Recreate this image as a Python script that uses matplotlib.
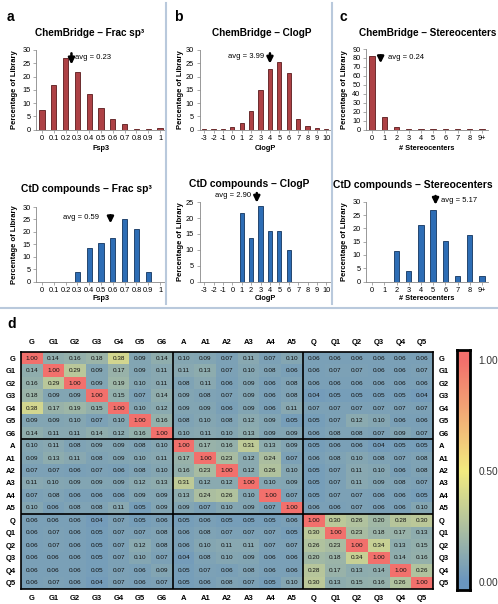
import numpy as np
import matplotlib
matplotlib.use("Agg")
import matplotlib.pyplot as plt
from matplotlib.colors import LinearSegmentedColormap
from matplotlib.lines import Line2D

plt.rcParams['font.family'] = ['Liberation Sans', 'DejaVu Sans']

W, H = 498, 604

# ---- distribution data (percentage of library) ----
fsp3_cats = ['0', '0.1', '0.2', '0.3', '0.4', '0.5', '0.6', '0.7', '0.8', '0.9', '1']
fsp3_chembridge = [7.2, 16.8, 27.0, 21.7, 13.4, 8.0, 3.9, 2.1, 0.3, 0.3, 0.4]
fsp3_ctd = [0, 0, 0, 4.0, 13.5, 15.5, 17.4, 25.0, 21.2, 4.0, 0]

clogp_cats = ['-3', '-2', '-1', '0', '1', '2', '3', '4', '5', '6', '7', '8', '9', '10']
clogp_chembridge = [0.1, 0.1, 0.3, 0.8, 2.6, 7.0, 15.0, 22.8, 25.5, 21.3, 3.9, 1.5, 0.5, 0.2]
clogp_ctd = [0, 0, 0, 0, 21.7, 13.8, 23.7, 15.8, 15.8, 9.9, 0, 0, 0, 0]

stereo_cats = ['0', '1', '2', '3', '4', '5', '6', '7', '8', '9+']
stereo_chembridge = [82.5, 13.5, 2.8, 0.8, 0.7, 0.2, 0.1, 0.1, 0.1, 0.1]
stereo_ctd = [0, 0, 11.5, 3.8, 21.2, 27.0, 15.4, 2.0, 17.4, 2.0]

# ---- similarity matrix ----
labels = ['G', 'G1', 'G2', 'G3', 'G4', 'G5', 'G6',
          'A', 'A1', 'A2', 'A3', 'A4', 'A5',
          'Q', 'Q1', 'Q2', 'Q3', 'Q4', 'Q5']
sim = np.array([
    [1.00, 0.14, 0.16, 0.18, 0.38, 0.09, 0.14, 0.10, 0.09, 0.07, 0.11, 0.07, 0.10, 0.06, 0.06, 0.06, 0.06, 0.06, 0.06],
    [0.14, 1.00, 0.29, 0.09, 0.17, 0.09, 0.11, 0.11, 0.13, 0.07, 0.10, 0.08, 0.06, 0.06, 0.07, 0.07, 0.06, 0.06, 0.07],
    [0.16, 0.29, 1.00, 0.09, 0.19, 0.10, 0.11, 0.08, 0.11, 0.06, 0.09, 0.06, 0.08, 0.06, 0.06, 0.06, 0.06, 0.06, 0.06],
    [0.18, 0.09, 0.09, 1.00, 0.15, 0.07, 0.14, 0.09, 0.08, 0.07, 0.09, 0.06, 0.08, 0.04, 0.05, 0.05, 0.05, 0.05, 0.04],
    [0.38, 0.17, 0.19, 0.15, 1.00, 0.10, 0.12, 0.09, 0.09, 0.06, 0.09, 0.06, 0.11, 0.07, 0.07, 0.07, 0.07, 0.07, 0.07],
    [0.09, 0.09, 0.10, 0.07, 0.10, 1.00, 0.16, 0.08, 0.10, 0.08, 0.12, 0.09, 0.05, 0.05, 0.07, 0.12, 0.10, 0.06, 0.06],
    [0.14, 0.11, 0.11, 0.14, 0.12, 0.16, 1.00, 0.10, 0.11, 0.10, 0.13, 0.09, 0.09, 0.06, 0.08, 0.08, 0.07, 0.09, 0.07],
    [0.10, 0.11, 0.08, 0.09, 0.09, 0.08, 0.10, 1.00, 0.17, 0.16, 0.31, 0.13, 0.09, 0.05, 0.06, 0.06, 0.04, 0.05, 0.05],
    [0.09, 0.13, 0.11, 0.08, 0.09, 0.10, 0.11, 0.17, 1.00, 0.23, 0.12, 0.24, 0.07, 0.06, 0.08, 0.10, 0.08, 0.07, 0.08],
    [0.07, 0.07, 0.06, 0.07, 0.06, 0.08, 0.10, 0.16, 0.23, 1.00, 0.12, 0.26, 0.10, 0.05, 0.07, 0.11, 0.10, 0.06, 0.08],
    [0.11, 0.10, 0.09, 0.09, 0.09, 0.12, 0.13, 0.31, 0.12, 0.12, 1.00, 0.10, 0.09, 0.05, 0.07, 0.11, 0.09, 0.08, 0.07],
    [0.07, 0.08, 0.06, 0.06, 0.06, 0.09, 0.09, 0.13, 0.24, 0.26, 0.10, 1.00, 0.07, 0.05, 0.07, 0.07, 0.06, 0.06, 0.05],
    [0.10, 0.06, 0.08, 0.08, 0.11, 0.05, 0.09, 0.09, 0.07, 0.10, 0.09, 0.07, 1.00, 0.06, 0.06, 0.07, 0.06, 0.06, 0.10],
    [0.06, 0.06, 0.06, 0.04, 0.07, 0.05, 0.06, 0.05, 0.06, 0.05, 0.05, 0.05, 0.06, 1.00, 0.30, 0.26, 0.20, 0.28, 0.30],
    [0.06, 0.07, 0.06, 0.05, 0.07, 0.07, 0.08, 0.06, 0.08, 0.07, 0.07, 0.07, 0.05, 0.30, 1.00, 0.23, 0.18, 0.17, 0.13],
    [0.06, 0.07, 0.06, 0.05, 0.07, 0.12, 0.08, 0.06, 0.10, 0.11, 0.11, 0.07, 0.07, 0.26, 0.23, 1.00, 0.34, 0.13, 0.15],
    [0.06, 0.06, 0.06, 0.05, 0.07, 0.10, 0.07, 0.04, 0.08, 0.10, 0.09, 0.06, 0.06, 0.20, 0.18, 0.34, 1.00, 0.14, 0.16],
    [0.06, 0.06, 0.06, 0.05, 0.07, 0.06, 0.09, 0.05, 0.07, 0.06, 0.08, 0.06, 0.06, 0.28, 0.17, 0.13, 0.14, 1.00, 0.26],
    [0.06, 0.07, 0.06, 0.04, 0.07, 0.06, 0.07, 0.05, 0.06, 0.08, 0.07, 0.05, 0.10, 0.30, 0.13, 0.15, 0.16, 0.26, 1.00],
])

RED, RED_EDGE = '#ad4145', '#5a1a1c'
BLUE, BLUE_EDGE = '#2d6db5', '#12345e'


def px(l, t, r, b):
    # pixel box -> figure fraction rect
    return [l / W, 1 - b / H, (r - l) / W, (b - t) / H]


fig = plt.figure(figsize=(W / 100, H / 100), dpi=100)


def bar_panel(rect, cats, vals, ymax, ystep, color, edge, title, title_xy, title_size,
              xlabel, xlabel_y, ylabel_x, arrow_x, arrow_top, arrow_tip, avg_text, text_xy):
    ax = fig.add_axes(px(*rect))
    x = np.arange(len(cats))
    ax.bar(x, vals, width=0.45, color=color, edgecolor=edge, linewidth=0.6)
    ax.set_xlim(-0.5, len(cats) - 0.5)
    ax.set_ylim(0, ymax)
    ax.set_yticks(np.arange(0, ymax + 0.1, ystep))
    ax.set_xticks(x)
    ax.set_xticklabels(cats)
    ax.tick_params(labelsize=5.3, length=2, width=0.5, color='#888888', pad=2)
    for s in ['top', 'right']:
        ax.spines[s].set_visible(False)
    for s in ['left', 'bottom']:
        ax.spines[s].set_color('#888888')
        ax.spines[s].set_linewidth(0.6)
    ax.annotate('', xy=(arrow_x, arrow_tip), xytext=(arrow_x, arrow_top),
                arrowprops=dict(arrowstyle='-|>', lw=1.8, color='black', mutation_scale=9),
                annotation_clip=False)
    ax.text(text_xy[0], text_xy[1], avg_text, fontsize=5.5, ha='center', va='center', clip_on=False)
    l, t, r, b = rect
    fig.text(title_xy[0] / W, 1 - title_xy[1] / H, title, fontsize=title_size, fontweight='bold',
             ha='center', va='center')
    fig.text((l + r) / 2 / W, 1 - xlabel_y / H, xlabel, fontsize=5.3, fontweight='bold',
             ha='center', va='center')
    fig.text(ylabel_x / W, 1 - (t + b) / 2 / H, 'Percentage of Library', fontsize=5.5,
             fontweight='bold', rotation=90, ha='center', va='center')
    return ax


# a
bar_panel((36, 50, 166, 129.5), fsp3_cats, fsp3_chembridge, 30, 5, RED, RED_EDGE,
          'ChemBridge – Frac sp³', (90, 33), 7.2, 'Fsp3', 148, 15,
          2.5, 29.8, 23.5, 'avg = 0.23', (4.3, 27.3))
bar_panel((36, 207, 166, 281.5), fsp3_cats, fsp3_ctd, 30, 5, BLUE, BLUE_EDGE,
          'CtD compounds – Frac sp³', (86, 189), 7.4, 'Fsp3', 298, 15,
          5.8, 27.8, 22.3, 'avg = 0.59', (3.3, 25.6))
# b
bar_panel((199.5, 50, 331, 129.5), clogp_cats, clogp_chembridge, 30, 5, RED, RED_EDGE,
          'ChemBridge – ClogP', (262, 33), 7.2, 'ClogP', 148, 180,
          7.0, 29.8, 23.8, 'avg = 3.99', (4.5, 27.4))
bar_panel((199.5, 202.3, 331, 281.5), clogp_cats, clogp_ctd, 25, 5, BLUE, BLUE_EDGE,
          'CtD compounds – ClogP', (249, 184), 7.4, 'ClogP', 298, 180,
          5.6, 28.8, 24.0, 'avg = 2.90', (3.1, 27.0))
# c
bar_panel((366, 49, 488, 129.5), stereo_cats, stereo_chembridge, 90, 10, RED, RED_EDGE,
          'ChemBridge – Stereocenters', (428, 33), 7.2, '# Stereocenters', 148, 345,
          0.7, 86, 71, 'avg = 0.24', (2.75, 80))
bar_panel((366, 201.7, 488, 281.5), stereo_cats, stereo_ctd, 30, 5, BLUE, BLUE_EDGE,
          'CtD compounds – Stereocenters', (413, 185), 7.4, '# Stereocenters', 298, 345,
          5.2, 33.2, 27.8, 'avg = 5.17', (7.1, 30.3))

# panel letters
for lab, x, y in [('a', 10, 17), ('b', 178, 17), ('c', 343, 17), ('d', 12, 324)]:
    fig.text(x / W, 1 - y / H, lab, fontsize=10, fontweight='bold', ha='center', va='center')

# separator lines
sep = '#b9c9dc'
fig.add_artist(Line2D([165.5 / W, 165.5 / W], [1 - 3 / H, 1 - 304 / H], color=sep, lw=1.5))
fig.add_artist(Line2D([331.5 / W, 331.5 / W], [1 - 3 / H, 1 - 304 / H], color=sep, lw=1.5))
fig.add_artist(Line2D([0, 1], [1 - 308 / H, 1 - 308 / H], color=sep, lw=1.5))

# d heatmap
cmap = LinearSegmentedColormap.from_list('sim', ['#6a96bf', '#f3eb80', '#f2706c'])
axh = fig.add_axes(px(21, 352, 433, 589))
axh.imshow(sim, cmap=cmap, vmin=0, vmax=1, aspect='auto', interpolation='nearest')
n = len(labels)
for i in range(n):
    for j in range(n):
        axh.text(j, i, f'{sim[i, j]:.2f}', ha='center', va='center', fontsize=4.6, color='#111111')
axh.set_xticks(range(n))
axh.set_yticks(range(n))
axh.set_xticklabels(labels, fontsize=5.5, fontweight='bold')
axh.set_yticklabels(labels, fontsize=5.5, fontweight='bold')
axh.tick_params(length=0, top=False, labeltop=True, labelbottom=True,
                labelleft=True, labelright=True, pad=4)
for b in [6.5, 12.5]:
    axh.axhline(b, color='black', lw=1.2)
    axh.axvline(b, color='black', lw=1.2)
for s in axh.spines.values():
    s.set_linewidth(1.2)

# colorbar
axc = fig.add_axes(px(457, 350, 470, 590))
lo, hi = -0.036, 1.045
grad = np.linspace(lo, hi, 256).reshape(-1, 1)
axc.imshow(grad, cmap=cmap, vmin=0, vmax=1, aspect='auto', origin='lower',
           extent=[0, 1, lo, hi])
axc.set_ylim(lo, hi)
axc.set_xticks([])
axc.yaxis.tick_right()
axc.set_yticks([0, 0.5, 1.0])
axc.set_yticklabels(['0.00', '0.50', '1.00'])
axc.tick_params(length=0, labelsize=7.3, pad=6, labelcolor='#333333')
for s in axc.spines.values():
    s.set_linewidth(2.0)

fig.savefig('out.png', dpi=100)
